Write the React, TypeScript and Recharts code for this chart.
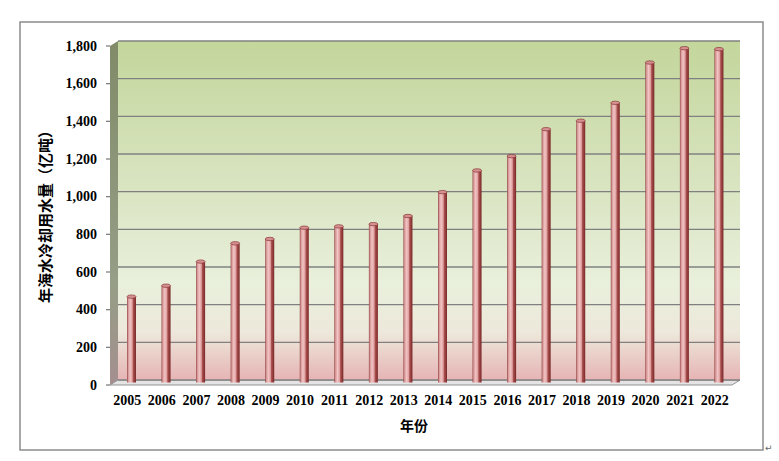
import React from 'react';
import { BarChart, Bar, XAxis, YAxis, CartesianGrid } from 'recharts';

// 年海水冷却用水量（亿吨）
const years = [
  '2005', '2006', '2007', '2008', '2009', '2010', '2011', '2012', '2013',
  '2014', '2015', '2016', '2017', '2018', '2019', '2020', '2021', '2022'
];
const coolingWater = [
  456, 514, 642, 739, 762, 822, 829, 841, 884,
  1011, 1126, 1202, 1345, 1390, 1485, 1699, 1775, 1770
];
const yTicks = [0, 200, 400, 600, 800, 1000, 1200, 1400, 1600, 1800];

const data = years.map((year, i) => ({ year, value: coolingWater[i] }));

const W = 779;
const H = 461;
// back wall of the 3d plot
const PLOT = { left: 118, right: 740, top: 41, bottom: 380 };
// perspective shift between back wall and front edge
const DX = 8;
const DY = 5;

const serif = '"Liberation Serif", "Times New Roman", serif';
const cjk = '"Noto Sans CJK SC", "Noto Sans", sans-serif';

function YTick({ y, payload }: any) {
  const fy = y + DY;
  return (
    <g>
      <line x1={106} x2={PLOT.left - DX} y1={fy} y2={fy} stroke="#808080" strokeWidth={1.3} />
      <text
        x={97}
        y={fy}
        dy={4.8}
        textAnchor="end"
        fontFamily={serif}
        fontWeight="bold"
        fontSize={14}
        fill="#000"
      >
        {Number(payload.value).toLocaleString('en-US')}
      </text>
    </g>
  );
}

function XTick({ x, payload }: any) {
  return (
    <text
      x={x - DX}
      y={405}
      textAnchor="middle"
      fontFamily={serif}
      fontWeight="bold"
      fontSize={14}
      fill="#000"
    >
      {payload.value}
    </text>
  );
}

function CylinderBar(props: any) {
  const { x, y, width, height } = props;
  if (!height || height <= 0) return null;
  const bx = x - DX / 2;
  const by = y + DY / 2;
  return (
    <g>
      <rect x={bx} y={by} width={width} height={height} fill="url(#barGrad)" />
      <ellipse
        cx={bx + width / 2}
        cy={by}
        rx={width / 2}
        ry={1.7}
        fill="#d59191"
        stroke="#8a3434"
        strokeWidth={0.7}
      />
    </g>
  );
}

export default function App() {
  return (
    <div style={{ position: 'absolute', left: 0, top: 0, width: W, height: H, background: '#fff' }}>
      {/* frame, side wall and floor */}
      <svg width={W} height={H} style={{ position: 'absolute', left: 0, top: 0 }}>
        <defs>
          <linearGradient id="sideGrad" x1="0" y1="0" x2="0" y2="1">
            <stop offset="0%" stopColor="#818b69" />
            <stop offset="70%" stopColor="#959e86" />
            <stop offset="100%" stopColor="#a48f8f" />
          </linearGradient>
        </defs>
        <rect x={20} y={22} width={743} height={428} fill="#fff" stroke="#8c8c8c" strokeWidth={1.5} />
        <polygon
          points={`${PLOT.left - DX},${PLOT.top + DY} ${PLOT.left},${PLOT.top} ${PLOT.left},${PLOT.bottom} ${PLOT.left - DX},${PLOT.bottom + DY}`}
          fill="url(#sideGrad)"
        />
        <polygon
          points={`${PLOT.left - DX},${PLOT.bottom + DY} ${PLOT.left},${PLOT.bottom} ${PLOT.right},${PLOT.bottom} ${PLOT.right - DX},${PLOT.bottom + DY}`}
          fill="#e4e4e4"
          stroke="#929292"
          strokeWidth={1}
        />
        <text
          x={0}
          y={0}
          transform="translate(51,213) rotate(-90)"
          textAnchor="middle"
          fontFamily={cjk}
          fontWeight="bold"
          fontSize={15}
          fill="#000"
        >
          年海水冷却用水量（亿吨）
        </text>
        <text x={414} y={431} textAnchor="middle" fontFamily={cjk} fontWeight="bold" fontSize={14} fill="#000">
          年份
        </text>
        <text x={765} y={451} fontFamily='"DejaVu Sans", sans-serif' fontSize={9} fill="#666">
          ↵
        </text>
      </svg>
      <div style={{ position: 'absolute', left: 0, top: 0 }}>
        <BarChart
          width={W}
          height={H}
          data={data}
          margin={{ top: PLOT.top, right: W - PLOT.right, bottom: 0, left: 0 }}
          barSize={9}
        >
          <defs>
            <linearGradient id="wallGrad" x1="0" y1="0" x2="0" y2="1">
              <stop offset="0%" stopColor="#c3d69b" />
              <stop offset="45%" stopColor="#dae5c3" />
              <stop offset="72%" stopColor="#e9f0dc" />
              <stop offset="86%" stopColor="#ede8db" />
              <stop offset="100%" stopColor="#e6b4b4" />
            </linearGradient>
            <linearGradient id="barGrad" x1="0" y1="0" x2="1" y2="0">
              <stop offset="0%" stopColor="#8e3c3c" />
              <stop offset="12%" stopColor="#d49494" />
              <stop offset="35%" stopColor="#f2c4c4" />
              <stop offset="58%" stopColor="#df9f9f" />
              <stop offset="70%" stopColor="#a94f4f" />
              <stop offset="100%" stopColor="#7a2828" />
            </linearGradient>
          </defs>
          <CartesianGrid
            vertical={false}
            stroke="#808080"
            strokeWidth={1.4}
            fill="url(#wallGrad)"
            fillOpacity={1}
          />
          <XAxis
            dataKey="year"
            height={H - PLOT.bottom}
            tick={<XTick />}
            tickLine={false}
            axisLine={false}
            interval={0}
          />
          <YAxis
            width={PLOT.left}
            domain={[0, 1800]}
            ticks={yTicks}
            tick={<YTick />}
            tickLine={false}
            axisLine={false}
            interval={0}
          />
          <Bar dataKey="value" shape={<CylinderBar />} isAnimationActive={false} />
        </BarChart>
      </div>
    </div>
  );
}
